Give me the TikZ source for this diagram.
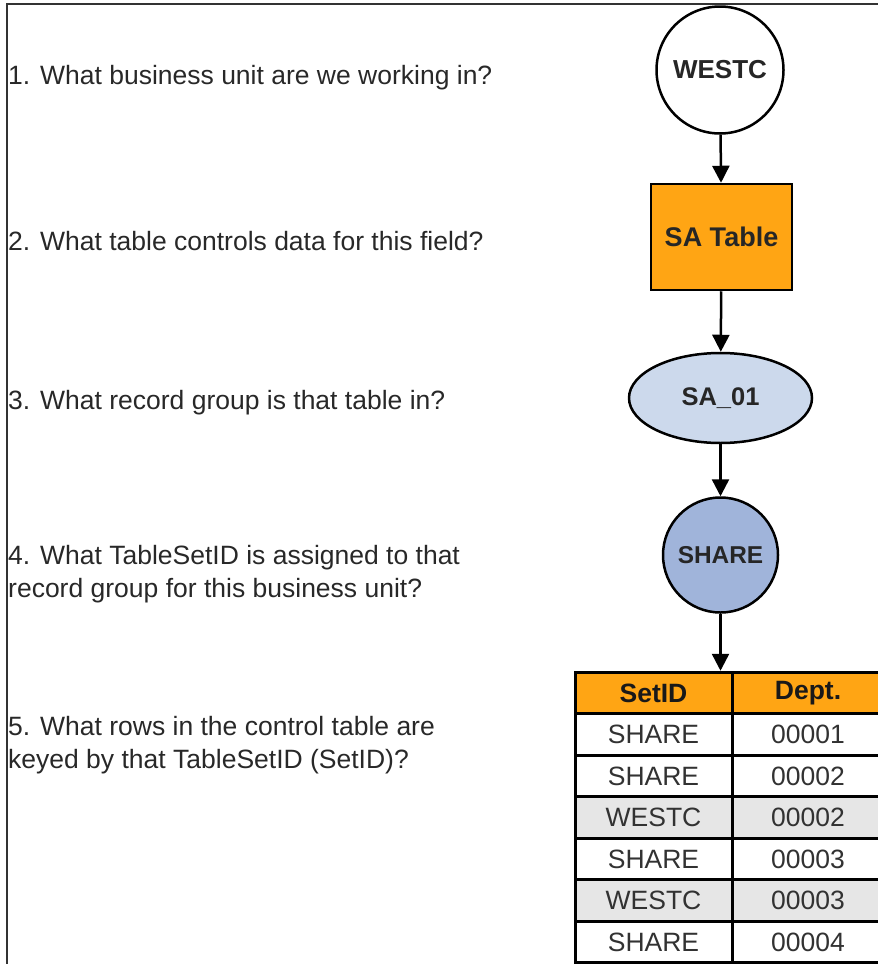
\documentclass[tikz,border=0pt]{standalone}
\usepackage{fontspec}
\setmainfont{Liberation Sans}
\usetikzlibrary{arrows.meta,shapes.geometric}
\definecolor{qtext}{RGB}{40,40,40}
\definecolor{orangefill}{RGB}{255,165,20}
\definecolor{lightblue}{RGB}{204,217,236}
\definecolor{midblue}{RGB}{160,180,218}
\definecolor{rowgray}{RGB}{230,230,230}
\definecolor{celltext}{RGB}{50,50,50}
\tikzset{
  question/.style={anchor=west, text=qtext, font=\fontsize{26.5}{33}\selectfont, align=left, inner sep=0pt},
  flow/.style={draw=black, line width=2.5pt, -{Triangle[width=17pt,length=17pt]}},
  shapebox/.style={draw=black, line width=2.5pt, font=\bfseries\fontsize{26}{30}\selectfont, text=black!85, inner sep=0pt},
  cell/.style={draw=black, line width=3pt, minimum height=41.5pt, inner sep=0pt, text=celltext, font=\fontsize{26.5}{30}\selectfont},
  hdrcell/.style={cell, fill=orangefill, text=black!90, font=\bfseries\fontsize{26.5}{30}\selectfont},
  colA/.style={minimum width=157pt},
  colB/.style={minimum width=152pt}
}
\begin{document}
\begin{tikzpicture}[x=1pt,y=-1pt]
\useasboundingbox (0,0) rectangle (878,964);
\clip (0,0) rectangle (878,964);
% frame
\draw[line width=2pt, draw=black!80] (7,965) -- (7,4) -- (880,4);
% questions
\node[question] (q1) at (8,78) {1. What business unit are we working in?};
\node[question] (q2) at (8,241) {2. What table controls data for this field?};
\node[question] (q3) at (8,403) {3. What record group is that table in?};
\node[question] (q4) at (8,574) {4. What TableSetID is assigned to that\\record group for this business unit?};
\node[question] (q5) at (8,745) {5. What rows in the control table are\\keyed by that TableSetID (SetID)?};
% flow shapes
\node[shapebox, circle, minimum size=127pt, fill=white] (westc) at (720,70) {WESTC};
\node[shapebox, rectangle, minimum width=141pt, minimum height=106pt, fill=orangefill, font=\bfseries\fontsize{27}{30}\selectfont] (satable) at (721.5,237) {SA Table};
\node[shapebox, ellipse, minimum width=183pt, minimum height=90pt, fill=lightblue, font=\bfseries\fontsize{25.5}{28}\selectfont] (sa01) at (720.5,398) {SA\_01};
\node[shapebox, circle, minimum size=115pt, fill=midblue, font=\bfseries\fontsize{24.4}{28}\selectfont] (share) at (720.5,555) {SHARE};
% table
\node[hdrcell, colA] (h1) at (653.5,693) {SetID};
\node[hdrcell, colB] (h2) at (808,693) {Dept.};
\node[cell, colA, fill=white]   (a1) at (653.5,734.5) {SHARE};
\node[cell, colB, fill=white]   (b1) at (808,734.5) {00001};
\node[cell, colA, fill=white]   (a2) at (653.5,776) {SHARE};
\node[cell, colB, fill=white]   (b2) at (808,776) {00002};
\node[cell, colA, fill=rowgray] (a3) at (653.5,817.5) {WESTC};
\node[cell, colB, fill=rowgray] (b3) at (808,817.5) {00002};
\node[cell, colA, fill=white]   (a4) at (653.5,859) {SHARE};
\node[cell, colB, fill=white]   (b4) at (808,859) {00003};
\node[cell, colA, fill=rowgray] (a5) at (653.5,900.5) {WESTC};
\node[cell, colB, fill=rowgray] (b5) at (808,900.5) {00003};
\node[cell, colA, fill=white]   (a6) at (653.5,942) {SHARE};
\node[cell, colB, fill=white]   (b6) at (808,942) {00004};
% connectors
\coordinate (tabin) at (share |- h1.north);
\draw[flow] (westc) -- (satable);
\draw[flow] (satable) -- (sa01);
\draw[flow] (sa01) -- (share);
\draw[flow] (share) -- (tabin);
\end{tikzpicture}
\end{document}
